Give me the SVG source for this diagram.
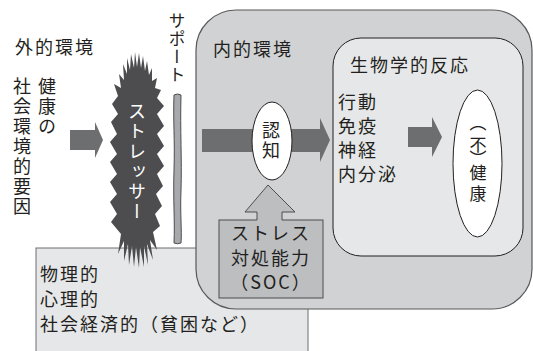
<svg xmlns="http://www.w3.org/2000/svg" width="533" height="351" viewBox="0 0 533 351">
<style>
.t{font-family:"Noto Sans CJK JP","Noto Sans",sans-serif;font-size:18px;fill:#231f20;letter-spacing:2px}
.v{writing-mode:vertical-rl}
.arrow{fill:#6d6e70}
</style>
<rect width="533" height="351" fill="#fff"/>
<g id="bottom-box">
<rect x="36" y="248" width="272" height="110" fill="#e6e7e8" stroke="#6d6e70" stroke-width="1"/>
<text class="t" x="40" y="281">物理的</text>
<text class="t" x="40" y="306">心理的</text>
<text class="t" x="40" y="331">社会経済的（貧困など）</text>
</g>
<g id="internal-env">
<rect x="196" y="10" width="336" height="299" rx="40" ry="40" fill="#d1d2d4" stroke="#58595b" stroke-width="1.2"/>
<text class="t" x="213" y="56">内的環境</text>
</g>
<g id="bio-response">
<rect x="333" y="38" width="190" height="218" rx="28" ry="28" fill="#e6e7e8" stroke="#231f20" stroke-width="1"/>
<text class="t" x="350" y="72">生物学的反応</text>
<text class="t" x="338" y="109">行動</text>
<text class="t" x="338" y="133">免疫</text>
<text class="t" x="338" y="157">神経</text>
<text class="t" x="338" y="181">内分泌</text>
</g>
<g id="external-env">
<text class="t" x="15" y="54">外的環境</text>
<text class="t v" x="22" y="77">社会環境的要因</text>
<text class="t v" x="47" y="77">健康の</text>
</g>
<g id="connectors">
<path class="arrow" d="M70,130 L95,130 L95,122 L103,140 L95,158 L95,150 L70,150 Z"/>
<path class="arrow" d="M202,129 L320,129 L320,118 L330,140 L320,162 L320,152 L202,152 Z"/>
<path class="arrow" d="M408,127 L432,127 L432,117 L442,137 L432,157 L432,147 L408,147 Z"/>
</g>
<g id="stressor">
<polygon fill="#4d4d4f" points="118,96 114,84 121,88 119,74 124,80 123,64 127,74 127,58 130,70 131,54 134,68 135,52 137,67 139,53 141,68 143,56 145,71 147,61 149,75 152,68 152,81 157,78 155,88 161,90 157,98 164,106 157,114 164,126 157,134 164,146 157,154 164,166 157,174 163,186 156,194 162,206 155,214 160,226 153,232 157,250 150,240 153,260 147,244 148,265 144,246 144,267 140,247 139,268 136,247 134,267 132,246 129,265 128,244 124,261 124,241 118,254 121,234 111,222 117,214 110,202 117,194 110,182 117,174 110,162 117,154 110,142 117,134 111,122 118,114 112,104"/>
<text class="t v" x="137" y="102" style="fill:#fff">ストレッサー</text>
</g>
<g id="support">
<path d="M174,95 Q177.5,93 181,95 C180,130 182,160 181,190 C180,215 182,230 181,243 Q177.5,244.5 174,243 C175,220 173,200 174,170 C175,140 173,120 174,95 Z" fill="#a7a9ac" stroke="#4d4d4f" stroke-width="1"/>
<text class="t v" x="177" y="12" style="font-size:17px;letter-spacing:1px">サポート</text>
</g>
<g id="coping">
<rect x="219" y="220" width="104" height="78" fill="#bcbec0" stroke="#4d4d4f" stroke-width="1"/>
<path d="M245,212 L268,185 L295,212 L282,212 L282,221 L257,221 L257,212 Z" fill="#bcbec0"/>
<path d="M257,220 L257,212 L245,212 L268,185 L295,212 L282,212 L282,220" fill="none" stroke="#4d4d4f" stroke-width="1"/>
<text class="t" x="271" y="240" text-anchor="middle">ストレス</text>
<text class="t" x="271" y="265" text-anchor="middle">対処能力</text>
<text class="t" x="271" y="289" text-anchor="middle">（SOC）</text>
</g>
<g id="cognition">
<ellipse cx="272" cy="141" rx="20" ry="39" fill="#fff" stroke="#231f20" stroke-width="1"/>
<text class="t v" x="271" y="121">認知</text>
</g>
<g id="health">
<ellipse cx="477.5" cy="163.5" rx="24.5" ry="73.5" fill="#fff" stroke="#231f20" stroke-width="1"/>
<text class="t v" x="478" y="114 136 150 164 185" style="font-size:17px;letter-spacing:0">︵不︶健康</text>
</g>
</svg>
